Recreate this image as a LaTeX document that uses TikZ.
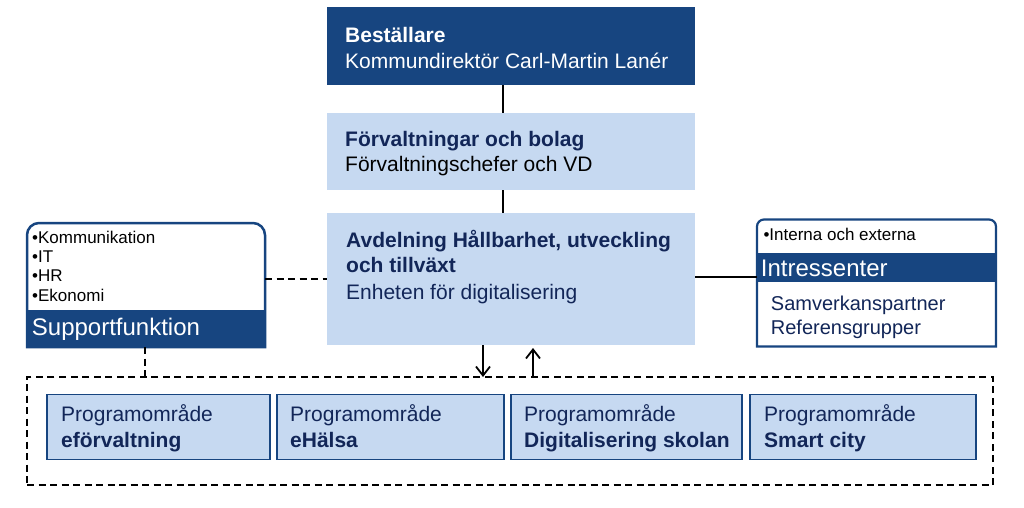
\documentclass[tikz,border=0pt]{standalone}
\usepackage{fontspec}
\setmainfont{Liberation Sans}
\usetikzlibrary{arrows.meta}
\definecolor{dkblue}{RGB}{23,69,128}
\definecolor{ltblue}{RGB}{198,217,241}
\definecolor{navy}{RGB}{18,38,88}
\tikzset{
  box/.style={inner sep=0pt, outer sep=0pt, anchor=north west},
  txt/.style={anchor=base west, inner sep=0pt, font=\fontsize{21}{25}\selectfont},
  smalltxt/.style={anchor=base west, inner sep=0pt, font=\fontsize{17}{20}\selectfont},
  midtxt/.style={anchor=base west, inner sep=0pt, font=\fontsize{20}{24}\selectfont},
  bigtxt/.style={anchor=base west, inner sep=0pt, font=\fontsize{24}{28}\selectfont},
  progbox/.style={box, fill=ltblue, draw=dkblue, line width=1.8pt},
  conn/.style={line width=2pt, black},
  dconn/.style={line width=2pt, black, dash pattern=on 7pt off 4.5pt},
  arr/.style={conn, -{Straight Barb[length=9pt,width=14pt,line width=1.8pt]}},
}
\begin{document}
\begin{tikzpicture}[x=1pt,y=-1pt]
\useasboundingbox (0,0) rectangle (1024,507);

% main column
\node[box, fill=dkblue, minimum width=368pt, minimum height=78pt] (best) at (327,7) {};
\node[box, fill=ltblue, minimum width=368pt, minimum height=77pt] (forv) at (327,113) {};
\node[box, fill=ltblue, minimum width=368pt, minimum height=132pt] (avd) at (327,213) {};

\node[txt, text=white] (t1) at (345,42.7) {\bfseries Beställare};
\node[txt, text=white] (t2) at (345,68) {Kommundirektör Carl-Martin Lanér};
\node[txt, text=navy] (t3) at (345,146.7) {\bfseries Förvaltningar och bolag};
\node[txt, text=black] (t4) at (345,171.7) {Förvaltningschefer och VD};
\node[txt, text=navy] (t5) at (346,247.7) {\bfseries Avdelning Hållbarhet, utveckling};
\node[txt, text=navy] (t6) at (346,272.7) {\bfseries och tillväxt};
\node[txt, text=navy] (t7) at (346,299) {Enheten för digitalisering};

% program area
\node[box, draw=black, dash pattern=on 7pt off 4.5pt, line width=2pt, minimum width=966pt, minimum height=108pt] (prog) at (27,377) {};
\node[progbox, minimum width=223pt, minimum height=65pt] (p1) at (47,394.5) {};
\node[progbox, minimum width=227pt, minimum height=65pt] (p2) at (277,394.5) {};
\node[progbox, minimum width=231pt, minimum height=65pt] (p3) at (511,394.5) {};
\node[progbox, minimum width=226pt, minimum height=65pt] (p4) at (750,394.5) {};

\node[txt, text=navy] (p1a) at (61,421.5) {Programområde};
\node[txt, text=navy] (p1b) at (61,447) {\bfseries eförvaltning};
\node[txt, text=navy] (p2a) at (290,421.5) {Programområde};
\node[txt, text=navy] (p2b) at (290,447) {\bfseries eHälsa};
\node[txt, text=navy] (p3a) at (524,421.5) {Programområde};
\node[txt, text=navy] (p3b) at (524,447) {\bfseries Digitalisering skolan};
\node[txt, text=navy] (p4a) at (764,421.5) {Programområde};
\node[txt, text=navy] (p4b) at (764,447) {\bfseries Smart city};

% support box
\node[box, minimum width=238pt, minimum height=124pt] (sup) at (27,223) {};
\fill[white] (sup.south west) [rounded corners=12pt] -- (sup.north west) -- (sup.north east) [sharp corners] -- (sup.south east) -- cycle;
\fill[dkblue] (27,310) rectangle (265,347);
\draw[dkblue, line width=2.5pt] (sup.south west) [rounded corners=12pt] -- (sup.north west) -- (sup.north east) [sharp corners] -- (sup.south east) -- cycle;
\node[smalltxt] (s1) at (32,243.3) {•Kommunikation};
\node[smalltxt] (s2) at (32,262.3) {•IT};
\node[smalltxt] (s3) at (32,281.7) {•HR};
\node[smalltxt] (s4) at (32,301) {•Ekonomi};
\node[bigtxt, text=white] (s5) at (31.7,335.7) {Supportfunktion};

% intressenter box
\node[box, minimum width=239pt, minimum height=127pt] (intr) at (757,219.5) {};
\fill[white] (intr.south west) [rounded corners=7pt] -- (intr.north west) -- (intr.north east) [sharp corners] -- (intr.south east) -- cycle;
\fill[dkblue] (757,253.3) rectangle (996,281.7);
\draw[dkblue, line width=2.2pt] (intr.south west) [rounded corners=7pt] -- (intr.north west) -- (intr.north east) [sharp corners] -- (intr.south east) -- cycle;
\node[smalltxt] (i1) at (763.3,240) {•Interna och externa};
\node[bigtxt, text=white] (i2) at (760.7,276.7) {Intressenter};
\node[midtxt, text=navy] (i3) at (770.7,310) {Samverkanspartner};
\node[midtxt, text=navy] (i4) at (770.7,334) {Referensgrupper};

% connectors
\coordinate (ae) at ([yshift=2.5pt]avd.east);
\draw[conn] ([xshift=-8pt]best.south) -- ([xshift=-8pt]forv.north);
\draw[conn] ([xshift=-8pt]forv.south) -- ([xshift=-8pt]avd.north);
\draw[dconn] (sup.east |- avd.west) -- (avd.west);
\draw[dconn] ([xshift=-1.5pt]sup.south) -- ([xshift=-1.5pt]sup.south |- prog.north);
\draw[conn] (ae) -- (intr.west |- ae);
\draw[arr] ([xshift=-28pt]avd.south) -- ([xshift=-28pt]avd.south |- prog.north);
\draw[arr, shorten >=3pt] ([xshift=22pt]avd.south |- prog.north) -- ([xshift=22pt]avd.south);
\end{tikzpicture}
\end{document}
